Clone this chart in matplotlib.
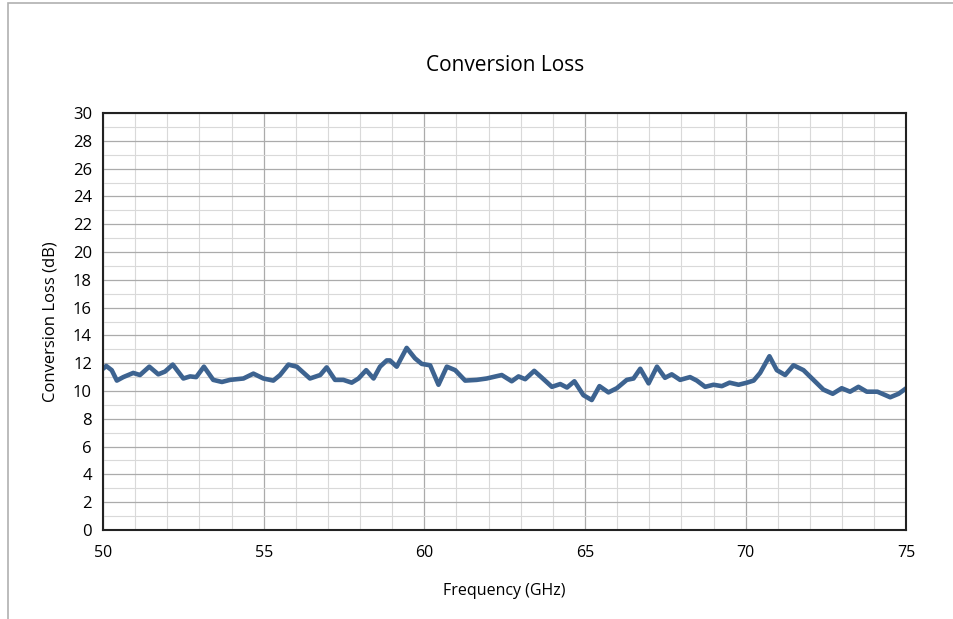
import matplotlib.pyplot as plt
from matplotlib.ticker import MultipleLocator
from matplotlib.patches import Rectangle

# values
freq = [50.0, 50.1, 50.27, 50.43, 50.63, 50.94, 51.15, 51.44, 51.72, 51.93,
        52.17, 52.5, 52.71, 52.9, 53.14, 53.43, 53.7, 53.95, 54.37, 54.68,
        54.99, 55.3, 55.51, 55.77, 56.03, 56.44, 56.76, 56.96, 57.22, 57.48,
        57.74, 57.95, 58.19, 58.42, 58.62, 58.83, 58.93, 59.14, 59.45, 59.71,
        59.92, 60.18, 60.44, 60.7, 60.96, 61.27, 61.63, 61.94, 62.41, 62.72,
        62.93, 63.14, 63.42, 63.71, 63.97, 64.23, 64.44, 64.67, 64.95, 65.21,
        65.45, 65.73, 65.99, 66.3, 66.51, 66.72, 66.98, 67.24, 67.49, 67.7,
        67.96, 68.27, 68.48, 68.74, 69.0, 69.26, 69.5, 69.78, 70.04, 70.25,
        70.45, 70.74, 70.97, 71.23, 71.49, 71.8, 72.11, 72.42, 72.71, 72.99,
        73.25, 73.51, 73.77, 74.1, 74.5, 74.76, 75.0]
loss = [11.6, 11.8, 11.5, 10.75, 11.0, 11.3, 11.15, 11.75, 11.2, 11.4,
        11.9, 10.9, 11.05, 11.0, 11.75, 10.8, 10.65, 10.8, 10.9, 11.25,
        10.9, 10.75, 11.15, 11.9, 11.75, 10.9, 11.15, 11.7, 10.8, 10.8,
        10.6, 10.9, 11.5, 10.9, 11.75, 12.2, 12.2, 11.75, 13.1, 12.35,
        11.95, 11.85, 10.45, 11.75, 11.5, 10.75, 10.8, 10.9, 11.15, 10.7,
        11.05, 10.85, 11.45, 10.85, 10.3, 10.5, 10.25, 10.7, 9.7, 9.35,
        10.35, 9.9, 10.2, 10.8, 10.9, 11.6, 10.55, 11.75, 10.95, 11.2,
        10.8, 11.0, 10.75, 10.3, 10.45, 10.35, 10.6, 10.45, 10.6, 10.75,
        11.3, 12.5, 11.5, 11.15, 11.85, 11.5, 10.8, 10.1, 9.8, 10.2,
        9.95, 10.3, 9.95, 9.95, 9.55, 9.8, 10.2]

x_ticks = [50, 55, 60, 65, 70, 75]
y_ticks = list(range(0, 31, 2))

plt.rcParams['font.family'] = ['Open Sans', 'DejaVu Sans']

fig = plt.figure(figsize=(9.54, 6.19), dpi=100)
ax = fig.add_axes([0.108, 0.1438, 0.842, 0.6736])

# outer frame of the picture (only left and top edges visible)
fig.patches.append(Rectangle((8 / 954, -0.1), 1.2, 1.1 - 3 / 619,
                             transform=fig.transFigure, fill=False,
                             edgecolor='#b0b0b0', linewidth=1.2))

ax.plot(freq, loss, color='#3d6390', linewidth=3.3, solid_joinstyle='round',
        solid_capstyle='round')

ax.set_xlim(50, 75)
ax.set_ylim(0, 30)
ax.set_xticks(x_ticks)
ax.set_yticks(y_ticks)
ax.xaxis.set_minor_locator(MultipleLocator(1))
ax.yaxis.set_minor_locator(MultipleLocator(1))
ax.grid(which='major', color='#ababab', linewidth=0.9)
ax.grid(which='minor', color='#d9d9d9', linewidth=0.8)
ax.set_axisbelow(True)
ax.tick_params(which='both', length=0)
ax.tick_params(axis='x', pad=11, labelsize=11.5)
ax.tick_params(axis='y', pad=8, labelsize=12)
for s in ax.spines.values():
    s.set_linewidth(1.5)
    s.set_color('#222222')

ax.set_title('Conversion Loss', fontsize=15, pad=30)
ax.set_xlabel('Frequency (GHz)', fontsize=11.5, labelpad=16)
ax.set_ylabel('Conversion Loss (dB)', fontsize=12, labelpad=10)

fig.savefig('out.png', dpi=100)
